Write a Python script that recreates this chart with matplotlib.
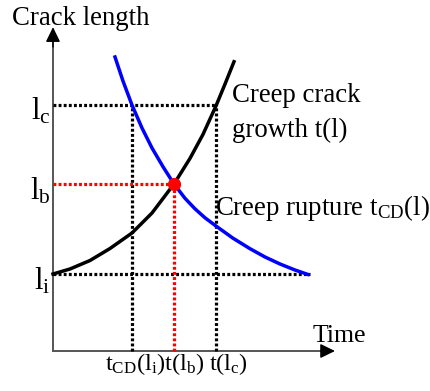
import matplotlib
matplotlib.use('Agg')
import matplotlib.pyplot as plt

plt.rcParams.update({'font.family': 'Liberation Serif',
                     'mathtext.fontset': 'custom',
                     'mathtext.rm': 'Liberation Serif',
                     'mathtext.it': 'Liberation Serif:italic'})

# characteristic crack lengths and times
l_i, l_b, l_c = 2.4, 5.22, 7.69
t_cd_i, t_b, t_c = 2.80, 4.29, 5.78

# creep crack growth t(l)
growth_t = [0, 0.603, 1.312, 2.021, 2.801, 3.511, 4.291, 4.858, 5.319, 5.780, 6.099, 6.418]
growth_l = [2.406, 2.563, 2.828, 3.203, 3.687, 4.312, 5.219, 6.019, 6.769, 7.66, 8.34, 9.04]

# creep rupture tCD(l)
rupture_t = [2.199, 2.482, 2.801, 3.156, 3.511, 3.901, 4.291, 4.681, 5.035, 5.390,
             5.780, 6.383, 6.986, 7.518, 8.050, 8.582, 9.043]
rupture_l = [9.188, 8.438, 7.688, 6.969, 6.344, 5.759, 5.219, 4.772, 4.444, 4.163,
             3.906, 3.525, 3.197, 2.938, 2.719, 2.531, 2.391]

t_end, l_end = 9.11, 10.12

fig = plt.figure(figsize=(4.3, 3.91), dpi=100)
ax = fig.add_axes([0, 0, 1, 1])
ax.set_xlim(-1.879, 13.369)
ax.set_ylim(-1.25, 10.969)
ax.axis('off')

# axes with arrow heads
ax.plot([0, 0], [0, 9.8], color='#555555', lw=1.4, zorder=2)
ax.plot([0, 9.7], [0, 0], color='#555555', lw=1.4, zorder=2)
hd = dict(arrowstyle='-|>,head_length=0.45,head_width=0.22', color='black',
          lw=1, shrinkA=0, shrinkB=0, mutation_scale=20)
ax.annotate('', xy=(0, l_end), xytext=(0, 9.5), arrowprops=hd)
ax.annotate('', xy=(10.0, 0), xytext=(9.5, 0), arrowprops=hd)

dots = (0, (0.9, 0.7))
ax.plot([0, t_end], [l_i, l_i], color='black', lw=2.3, ls=dots)
ax.plot([0, t_c], [l_c, l_c], color='black', lw=2.3, ls=dots)
ax.plot([t_cd_i, t_cd_i], [0, l_c], color='black', lw=2.3, ls=dots)
ax.plot([t_c, t_c], [0, l_c], color='black', lw=2.3, ls=dots)
ax.plot([0, t_b], [l_b, l_b], color='red', lw=2.3, ls=dots)
ax.plot([t_b, t_b], [0, l_b], color='red', lw=2.3, ls=dots)

ax.plot(rupture_t, rupture_l, color='blue', lw=2.5, zorder=3, solid_joinstyle='round')
ax.plot(growth_t, growth_l, color='black', lw=2.5, zorder=4, solid_joinstyle='round')
ax.plot([t_b], [l_b], 'o', color='red', ms=8.5, zorder=5)

fs = 19.3
ax.text(-1.45, 10.2, 'Crack length', fontsize=fs, va='baseline')
ax.text(6.35, 7.78, 'Creep crack', fontsize=fs, va='baseline')
ax.text(6.35, 6.69, 'growth t(l)', fontsize=fs, va='baseline')
ax.text(5.75, 4.25, r'Creep rupture $\mathrm{t_{CD}}$(l)', fontsize=fs, va='baseline')
ax.text(9.2, 0.28, 'Time', fontsize=18.5, va='baseline')

for lv, name in [(l_c, 'c'), (l_b, 'b'), (l_i, 'i')]:
    ax.text(-0.08, lv - 0.47, r'$\mathrm{l_%s}$' % name, fontsize=22, ha='right', va='baseline')

ax.text(1.85, -0.6, r'$\mathrm{t_{CD}(l_i)t(l_b)\ t(l_c)}$', fontsize=17.5, va='baseline')

fig.savefig('out.png', dpi=100, facecolor='white')
